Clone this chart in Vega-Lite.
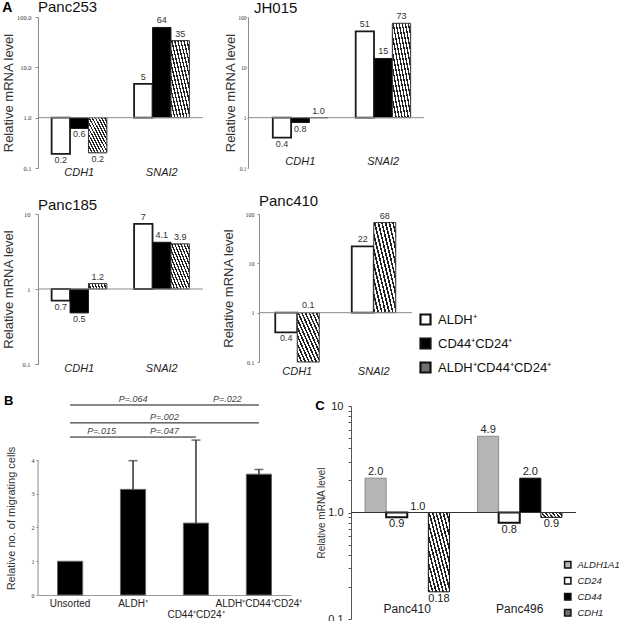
{
"$schema":"https://vega.github.io/schema/vega-lite/v6.json",
"background":"white",
"padding":{"left":1,"top":0,"right":0,"bottom":0},
"config":{"view":{"stroke":null},"font":"Liberation Sans","axis":{"grid":false,"titleFontWeight":"normal","titleColor":"#333","labelColor":"#333","domainColor":"#8c8c8c","tickColor":"#8c8c8c","titleFont":"Liberation Sans"},"title":{"fontWeight":"normal"}},
"datasets":{"sig":[
{"a":"Unsorted","b":"CD44⁺CD24⁺","p":"P=.064","tier":1},
{"a":"CD44⁺CD24⁺","b":"ALDH⁺CD44⁺CD24⁺","p":"P=.022","tier":1},
{"a":"Unsorted","b":"ALDH⁺CD44⁺CD24⁺","p":"P=.002","tier":2},
{"a":"Unsorted","b":"ALDH⁺","p":"P=.015","tier":3},
{"a":"ALDH⁺","b":"CD44⁺CD24⁺","p":"P=.047","tier":3}]},
"spacing":17,
"resolve":{"scale":{"fill":"independent","xOffset":"independent"},"legend":{"fill":"independent"}},
"vconcat":[
{"spacing":20,"resolve":{"scale":{"fill":"independent","xOffset":"independent"},"legend":{"fill":"independent"}},"hconcat":[
{"width":165,"height":151,
"title":{"text":"Panc253","anchor":"start","frame":"group","fontSize":15,"color":"#111","offset":-14},
"data":{"values":[
{"gene":"CDH1","s":"ALDH⁺","v":0.19,"lab":"0.2"},{"gene":"CDH1","s":"CD44⁺CD24⁺","v":0.61,"lab":"0.6"},{"gene":"CDH1","s":"ALDH⁺CD44⁺CD24⁺","v":0.2,"lab":"0.2"},
{"gene":"SNAI2","s":"ALDH⁺","v":4.7,"lab":"5"},{"gene":"SNAI2","s":"CD44⁺CD24⁺","v":62,"lab":"64"},{"gene":"SNAI2","s":"ALDH⁺CD44⁺CD24⁺","v":34,"lab":"35"}]},
"layer":[
{"transform":[{"filter":"datum.s!=='ALDH⁺CD44⁺CD24⁺'"}],"mark":{"type":"bar","stroke":"#1a1a1a"},"encoding":{
"x":{"field":"gene","type":"nominal","scale":{"paddingInner":0.33,"paddingOuter":0.165},"axis":{"title":null,"domain":false,"ticks":false,"labelAngle":0,"labelFontStyle":"italic","labelFontSize":11,"labelColor":"#222","labelPadding":-2}},
"xOffset":{"field":"s","type":"nominal","scale":{"domain":["ALDH⁺","CD44⁺CD24⁺","ALDH⁺CD44⁺CD24⁺"],"paddingInner":0}},
"y":{"field":"v","type":"quantitative","scale":{"type":"log","domain":[0.1,100]},"axis":{"title":"Relative mRNA level","titleFontSize":13,"values":[0.1,1,10,100],"format":".1f","labelFont":"Liberation Serif","labelFontSize":6.5,"tickSize":3,"labelPadding":4,"minExtent":20,"maxExtent":20,"titlePadding":3}},
"y2":{"datum":1},
"fill":{"condition":{"test":"datum.s==='ALDH⁺'","value":"#ffffff"},"value":"#000000"},
"strokeWidth":{"condition":{"test":"datum.s==='ALDH⁺'","value":1.8},"value":1}}},
{"transform":[{"filter":"datum.s==='ALDH⁺CD44⁺CD24⁺'"}],"mark":{"type":"bar","stroke":"#333","strokeWidth":1,"fill":{"gradient":"linear","x1":0,"y1":1,"x2":1,"y2":0,"stops":[{"offset":0,"color":"#222"},{"offset":0.0375,"color":"#222"},{"offset":0.0375,"color":"#fff"},{"offset":0.0833,"color":"#fff"},{"offset":0.0833,"color":"#222"},{"offset":0.1208,"color":"#222"},{"offset":0.1208,"color":"#fff"},{"offset":0.1667,"color":"#fff"},{"offset":0.1667,"color":"#222"},{"offset":0.2042,"color":"#222"},{"offset":0.2042,"color":"#fff"},{"offset":0.25,"color":"#fff"},{"offset":0.25,"color":"#222"},{"offset":0.2875,"color":"#222"},{"offset":0.2875,"color":"#fff"},{"offset":0.3333,"color":"#fff"},{"offset":0.3333,"color":"#222"},{"offset":0.3708,"color":"#222"},{"offset":0.3708,"color":"#fff"},{"offset":0.4167,"color":"#fff"},{"offset":0.4167,"color":"#222"},{"offset":0.4542,"color":"#222"},{"offset":0.4542,"color":"#fff"},{"offset":0.5,"color":"#fff"},{"offset":0.5,"color":"#222"},{"offset":0.5375,"color":"#222"},{"offset":0.5375,"color":"#fff"},{"offset":0.5833,"color":"#fff"},{"offset":0.5833,"color":"#222"},{"offset":0.6208,"color":"#222"},{"offset":0.6208,"color":"#fff"},{"offset":0.6667,"color":"#fff"},{"offset":0.6667,"color":"#222"},{"offset":0.7042,"color":"#222"},{"offset":0.7042,"color":"#fff"},{"offset":0.75,"color":"#fff"},{"offset":0.75,"color":"#222"},{"offset":0.7875,"color":"#222"},{"offset":0.7875,"color":"#fff"},{"offset":0.8333,"color":"#fff"},{"offset":0.8333,"color":"#222"},{"offset":0.8708,"color":"#222"},{"offset":0.8708,"color":"#fff"},{"offset":0.9167,"color":"#fff"},{"offset":0.9167,"color":"#222"},{"offset":0.9542,"color":"#222"},{"offset":0.9542,"color":"#fff"},{"offset":1,"color":"#fff"}]}},"encoding":{
"x":{"field":"gene","type":"nominal"},"xOffset":{"field":"s","type":"nominal"},"y":{"field":"v","type":"quantitative"},"y2":{"datum":1}}},
{"data":{"values":[{}]},"mark":{"type":"rule","color":"#8c8c8c","strokeWidth":1},"encoding":{"y":{"datum":1,"type":"quantitative"}}},
{"transform":[{"filter":"datum.v>=1"}],"mark":{"type":"text","baseline":"bottom","dy":-2,"fontSize":9,"color":"#333"},"encoding":{"x":{"field":"gene","type":"nominal"},"xOffset":{"field":"s","type":"nominal"},"y":{"field":"v","type":"quantitative"},"text":{"field":"lab"}}},
{"transform":[{"filter":"datum.v<1"}],"mark":{"type":"text","baseline":"top","dy":2,"fontSize":9,"color":"#333"},"encoding":{"x":{"field":"gene","type":"nominal"},"xOffset":{"field":"s","type":"nominal"},"y":{"field":"v","type":"quantitative"},"text":{"field":"lab"}}},
{"data":{"values":[{}]},"mark":{"type":"text","text":"A","fontSize":14,"fontWeight":"bold","align":"left","baseline":"middle","dx":-77,"dy":-9,"color":"#000"},"encoding":{"x":{"datum":"CDH1"},"y":{"datum":100}}}
]},
{"width":176,"height":151,
"title":{"text":"JH015","anchor":"start","frame":"group","fontSize":15,"color":"#111","offset":-4,"dx":6},
"data":{"values":[
{"gene":"CDH1","s":"ALDH⁺","v":0.4,"lab":"0.4"},{"gene":"CDH1","s":"CD44⁺CD24⁺","v":0.8,"lab":"0.8"},{"gene":"CDH1","s":"ALDH⁺CD44⁺CD24⁺","v":1.0,"lab":"1.0"},
{"gene":"SNAI2","s":"ALDH⁺","v":52,"lab":"51"},{"gene":"SNAI2","s":"CD44⁺CD24⁺","v":15,"lab":"15"},{"gene":"SNAI2","s":"ALDH⁺CD44⁺CD24⁺","v":75,"lab":"73"}]},
"layer":[
{"transform":[{"filter":"datum.s!=='ALDH⁺CD44⁺CD24⁺'"}],"mark":{"type":"bar","stroke":"#1a1a1a"},"encoding":{
"x":{"field":"gene","type":"nominal","scale":{"paddingInner":0.337,"paddingOuter":0.23,"align":0.65},"axis":{"title":null,"domain":false,"ticks":false,"labelAngle":0,"labelFontStyle":"italic","labelFontSize":11,"labelColor":"#222","labelPadding":-13}},
"xOffset":{"field":"s","type":"nominal","scale":{"domain":["ALDH⁺","CD44⁺CD24⁺","ALDH⁺CD44⁺CD24⁺"],"paddingInner":0}},
"y":{"field":"v","type":"quantitative","scale":{"type":"log","domain":[0.1,100]},"axis":{"title":"Relative mRNA level","titleFontSize":13,"values":[0.1,1,10,100],"format":"~g","labelFont":"Liberation Serif","labelFontSize":5.5,"tickSize":1,"labelPadding":1,"minExtent":10,"maxExtent":10,"titlePadding":0.5}},
"y2":{"datum":1},
"fill":{"condition":{"test":"datum.s==='ALDH⁺'","value":"#ffffff"},"value":"#000000"},
"strokeWidth":{"condition":{"test":"datum.s==='ALDH⁺'","value":1.8},"value":1}}},
{"transform":[{"filter":"datum.s==='ALDH⁺CD44⁺CD24⁺'"}],"mark":{"type":"bar","stroke":"#333","strokeWidth":1,"fill":{"gradient":"linear","x1":0,"y1":1,"x2":1,"y2":0,"stops":[{"offset":0,"color":"#222"},{"offset":0.0375,"color":"#222"},{"offset":0.0375,"color":"#fff"},{"offset":0.0833,"color":"#fff"},{"offset":0.0833,"color":"#222"},{"offset":0.1208,"color":"#222"},{"offset":0.1208,"color":"#fff"},{"offset":0.1667,"color":"#fff"},{"offset":0.1667,"color":"#222"},{"offset":0.2042,"color":"#222"},{"offset":0.2042,"color":"#fff"},{"offset":0.25,"color":"#fff"},{"offset":0.25,"color":"#222"},{"offset":0.2875,"color":"#222"},{"offset":0.2875,"color":"#fff"},{"offset":0.3333,"color":"#fff"},{"offset":0.3333,"color":"#222"},{"offset":0.3708,"color":"#222"},{"offset":0.3708,"color":"#fff"},{"offset":0.4167,"color":"#fff"},{"offset":0.4167,"color":"#222"},{"offset":0.4542,"color":"#222"},{"offset":0.4542,"color":"#fff"},{"offset":0.5,"color":"#fff"},{"offset":0.5,"color":"#222"},{"offset":0.5375,"color":"#222"},{"offset":0.5375,"color":"#fff"},{"offset":0.5833,"color":"#fff"},{"offset":0.5833,"color":"#222"},{"offset":0.6208,"color":"#222"},{"offset":0.6208,"color":"#fff"},{"offset":0.6667,"color":"#fff"},{"offset":0.6667,"color":"#222"},{"offset":0.7042,"color":"#222"},{"offset":0.7042,"color":"#fff"},{"offset":0.75,"color":"#fff"},{"offset":0.75,"color":"#222"},{"offset":0.7875,"color":"#222"},{"offset":0.7875,"color":"#fff"},{"offset":0.8333,"color":"#fff"},{"offset":0.8333,"color":"#222"},{"offset":0.8708,"color":"#222"},{"offset":0.8708,"color":"#fff"},{"offset":0.9167,"color":"#fff"},{"offset":0.9167,"color":"#222"},{"offset":0.9542,"color":"#222"},{"offset":0.9542,"color":"#fff"},{"offset":1,"color":"#fff"}]}},"encoding":{
"x":{"field":"gene","type":"nominal"},"xOffset":{"field":"s","type":"nominal"},"y":{"field":"v","type":"quantitative"},"y2":{"datum":1}}},
{"data":{"values":[{}]},"mark":{"type":"rule","color":"#8c8c8c","strokeWidth":1},"encoding":{"y":{"datum":1,"type":"quantitative"}}},
{"transform":[{"filter":"datum.v>=1"}],"mark":{"type":"text","baseline":"bottom","dy":-2,"fontSize":9,"color":"#333"},"encoding":{"x":{"field":"gene","type":"nominal"},"xOffset":{"field":"s","type":"nominal"},"y":{"field":"v","type":"quantitative"},"text":{"field":"lab"}}},
{"transform":[{"filter":"datum.v<1"}],"mark":{"type":"text","baseline":"top","dy":2,"fontSize":9,"color":"#333"},"encoding":{"x":{"field":"gene","type":"nominal"},"xOffset":{"field":"s","type":"nominal"},"y":{"field":"v","type":"quantitative"},"text":{"field":"lab"}}}
]}
]},
{"spacing":18,"resolve":{"scale":{"fill":"independent","xOffset":"independent"},"legend":{"fill":"independent"}},"hconcat":[
{"width":165,"height":150,
"title":{"text":"Panc185","anchor":"start","frame":"group","fontSize":15,"color":"#111","offset":-2},
"data":{"values":[
{"gene":"CDH1","s":"ALDH⁺","v":0.7,"lab":"0.7"},{"gene":"CDH1","s":"CD44⁺CD24⁺","v":0.48,"lab":"0.5"},{"gene":"CDH1","s":"ALDH⁺CD44⁺CD24⁺","v":1.18,"lab":"1.2"},
{"gene":"SNAI2","s":"ALDH⁺","v":7.4,"lab":"7"},{"gene":"SNAI2","s":"CD44⁺CD24⁺","v":4.2,"lab":"4.1"},{"gene":"SNAI2","s":"ALDH⁺CD44⁺CD24⁺","v":4.0,"lab":"3.9"}]},
"layer":[
{"transform":[{"filter":"datum.s!=='ALDH⁺CD44⁺CD24⁺'"}],"mark":{"type":"bar","stroke":"#1a1a1a"},"encoding":{
"x":{"field":"gene","type":"nominal","scale":{"paddingInner":0.33,"paddingOuter":0.165},"axis":{"title":null,"domain":false,"ticks":false,"labelAngle":0,"labelFontStyle":"italic","labelFontSize":11,"labelColor":"#222","labelPadding":-2}},
"xOffset":{"field":"s","type":"nominal","scale":{"domain":["ALDH⁺","CD44⁺CD24⁺","ALDH⁺CD44⁺CD24⁺"],"paddingInner":0}},
"y":{"field":"v","type":"quantitative","scale":{"type":"log","domain":[0.1,10]},"axis":{"title":"Relative mRNA level","titleFontSize":13,"values":[0.1,1,10],"format":"~g","labelFont":"Liberation Serif","labelFontSize":6.5,"tickSize":3,"labelPadding":5,"minExtent":20,"maxExtent":20,"titlePadding":3}},
"y2":{"datum":1},
"fill":{"condition":{"test":"datum.s==='ALDH⁺'","value":"#ffffff"},"value":"#000000"},
"strokeWidth":{"condition":{"test":"datum.s==='ALDH⁺'","value":1.8},"value":1}}},
{"transform":[{"filter":"datum.s==='ALDH⁺CD44⁺CD24⁺'"}],"mark":{"type":"bar","stroke":"#333","strokeWidth":1,"fill":{"gradient":"linear","x1":0,"y1":1,"x2":1,"y2":0,"stops":[{"offset":0,"color":"#222"},{"offset":0.0375,"color":"#222"},{"offset":0.0375,"color":"#fff"},{"offset":0.0833,"color":"#fff"},{"offset":0.0833,"color":"#222"},{"offset":0.1208,"color":"#222"},{"offset":0.1208,"color":"#fff"},{"offset":0.1667,"color":"#fff"},{"offset":0.1667,"color":"#222"},{"offset":0.2042,"color":"#222"},{"offset":0.2042,"color":"#fff"},{"offset":0.25,"color":"#fff"},{"offset":0.25,"color":"#222"},{"offset":0.2875,"color":"#222"},{"offset":0.2875,"color":"#fff"},{"offset":0.3333,"color":"#fff"},{"offset":0.3333,"color":"#222"},{"offset":0.3708,"color":"#222"},{"offset":0.3708,"color":"#fff"},{"offset":0.4167,"color":"#fff"},{"offset":0.4167,"color":"#222"},{"offset":0.4542,"color":"#222"},{"offset":0.4542,"color":"#fff"},{"offset":0.5,"color":"#fff"},{"offset":0.5,"color":"#222"},{"offset":0.5375,"color":"#222"},{"offset":0.5375,"color":"#fff"},{"offset":0.5833,"color":"#fff"},{"offset":0.5833,"color":"#222"},{"offset":0.6208,"color":"#222"},{"offset":0.6208,"color":"#fff"},{"offset":0.6667,"color":"#fff"},{"offset":0.6667,"color":"#222"},{"offset":0.7042,"color":"#222"},{"offset":0.7042,"color":"#fff"},{"offset":0.75,"color":"#fff"},{"offset":0.75,"color":"#222"},{"offset":0.7875,"color":"#222"},{"offset":0.7875,"color":"#fff"},{"offset":0.8333,"color":"#fff"},{"offset":0.8333,"color":"#222"},{"offset":0.8708,"color":"#222"},{"offset":0.8708,"color":"#fff"},{"offset":0.9167,"color":"#fff"},{"offset":0.9167,"color":"#222"},{"offset":0.9542,"color":"#222"},{"offset":0.9542,"color":"#fff"},{"offset":1,"color":"#fff"}]}},"encoding":{
"x":{"field":"gene","type":"nominal"},"xOffset":{"field":"s","type":"nominal"},"y":{"field":"v","type":"quantitative"},"y2":{"datum":1}}},
{"data":{"values":[{}]},"mark":{"type":"rule","color":"#8c8c8c","strokeWidth":1},"encoding":{"y":{"datum":1,"type":"quantitative"}}},
{"transform":[{"filter":"datum.v>=1"}],"mark":{"type":"text","baseline":"bottom","dy":-2,"fontSize":9,"color":"#333"},"encoding":{"x":{"field":"gene","type":"nominal"},"xOffset":{"field":"s","type":"nominal"},"y":{"field":"v","type":"quantitative"},"text":{"field":"lab"}}},
{"transform":[{"filter":"datum.v<1"}],"mark":{"type":"text","baseline":"top","dy":2,"fontSize":9,"color":"#333"},"encoding":{"x":{"field":"gene","type":"nominal"},"xOffset":{"field":"s","type":"nominal"},"y":{"field":"v","type":"quantitative"},"text":{"field":"lab"}}}
]},
{"width":153,"height":148,
"title":{"text":"Panc410","anchor":"start","frame":"group","fontSize":15,"color":"#111","offset":2},
"data":{"values":[
{"gene":"CDH1","s":"ALDH⁺","v":0.4,"lab":"0.4"},{"gene":"CDH1","s":"ALDH⁺CD44⁺CD24⁺","v":0.1,"lab":"0.1"},
{"gene":"SNAI2","s":"ALDH⁺","v":22,"lab":"22"},{"gene":"SNAI2","s":"ALDH⁺CD44⁺CD24⁺","v":67,"lab":"68"}]},
"layer":[
{"transform":[{"filter":"datum.s!=='ALDH⁺CD44⁺CD24⁺'"}],"mark":{"type":"bar","stroke":"#1a1a1a"},"encoding":{
"x":{"field":"gene","type":"nominal","scale":{"paddingInner":0.425,"paddingOuter":0.2125},"axis":{"title":null,"domain":false,"ticks":false,"labelAngle":0,"labelFontStyle":"italic","labelFontSize":11,"labelColor":"#222","labelPadding":3}},
"xOffset":{"field":"s","type":"nominal","scale":{"domain":["ALDH⁺","ALDH⁺CD44⁺CD24⁺"],"paddingInner":0}},
"y":{"field":"v","type":"quantitative","scale":{"type":"log","domain":[0.1,100]},"axis":{"title":"Relative mRNA level","titleFontSize":13,"values":[0.1,1,10,100],"format":"~g","labelFont":"Liberation Serif","labelFontSize":6,"tickSize":2,"labelPadding":3,"minExtent":20,"maxExtent":20,"titlePadding":3.5}},
"y2":{"datum":1},
"fill":{"field":"s","type":"nominal","scale":{"domain":["ALDH⁺","CD44⁺CD24⁺","ALDH⁺CD44⁺CD24⁺"],"range":["#ffffff","#000000","#707070"]},
"legend":{"orient":"none","legendX":160,"legendY":99,"title":null,"labelFontSize":13,"labelColor":"#111","symbolType":"square","symbolSize":100,"symbolStrokeColor":"#111","symbolStrokeWidth":2.2,"rowPadding":5,"labelOffset":6}},
"strokeWidth":{"condition":{"test":"datum.s==='ALDH⁺'","value":1.8},"value":1}}},
{"transform":[{"filter":"datum.s==='ALDH⁺CD44⁺CD24⁺'"}],"mark":{"type":"bar","stroke":"#333","strokeWidth":1,"fill":{"gradient":"linear","x1":0,"y1":1,"x2":1,"y2":0,"stops":[{"offset":0,"color":"#222"},{"offset":0.0375,"color":"#222"},{"offset":0.0375,"color":"#fff"},{"offset":0.0833,"color":"#fff"},{"offset":0.0833,"color":"#222"},{"offset":0.1208,"color":"#222"},{"offset":0.1208,"color":"#fff"},{"offset":0.1667,"color":"#fff"},{"offset":0.1667,"color":"#222"},{"offset":0.2042,"color":"#222"},{"offset":0.2042,"color":"#fff"},{"offset":0.25,"color":"#fff"},{"offset":0.25,"color":"#222"},{"offset":0.2875,"color":"#222"},{"offset":0.2875,"color":"#fff"},{"offset":0.3333,"color":"#fff"},{"offset":0.3333,"color":"#222"},{"offset":0.3708,"color":"#222"},{"offset":0.3708,"color":"#fff"},{"offset":0.4167,"color":"#fff"},{"offset":0.4167,"color":"#222"},{"offset":0.4542,"color":"#222"},{"offset":0.4542,"color":"#fff"},{"offset":0.5,"color":"#fff"},{"offset":0.5,"color":"#222"},{"offset":0.5375,"color":"#222"},{"offset":0.5375,"color":"#fff"},{"offset":0.5833,"color":"#fff"},{"offset":0.5833,"color":"#222"},{"offset":0.6208,"color":"#222"},{"offset":0.6208,"color":"#fff"},{"offset":0.6667,"color":"#fff"},{"offset":0.6667,"color":"#222"},{"offset":0.7042,"color":"#222"},{"offset":0.7042,"color":"#fff"},{"offset":0.75,"color":"#fff"},{"offset":0.75,"color":"#222"},{"offset":0.7875,"color":"#222"},{"offset":0.7875,"color":"#fff"},{"offset":0.8333,"color":"#fff"},{"offset":0.8333,"color":"#222"},{"offset":0.8708,"color":"#222"},{"offset":0.8708,"color":"#fff"},{"offset":0.9167,"color":"#fff"},{"offset":0.9167,"color":"#222"},{"offset":0.9542,"color":"#222"},{"offset":0.9542,"color":"#fff"},{"offset":1,"color":"#fff"}]}},"encoding":{
"x":{"field":"gene","type":"nominal"},"xOffset":{"field":"s","type":"nominal"},"y":{"field":"v","type":"quantitative"},"y2":{"datum":1}}},
{"data":{"values":[{}]},"mark":{"type":"rule","color":"#8c8c8c","strokeWidth":1},"encoding":{"y":{"datum":1,"type":"quantitative"}}},
{"transform":[{"filter":"datum.v>=1"}],"mark":{"type":"text","baseline":"bottom","dy":-2,"fontSize":9,"color":"#333"},"encoding":{"x":{"field":"gene","type":"nominal"},"xOffset":{"field":"s","type":"nominal"},"y":{"field":"v","type":"quantitative"},"text":{"field":"lab"}}},
{"transform":[{"filter":"datum.v<1 && datum.v>0.15"}],"mark":{"type":"text","baseline":"top","dy":2,"fontSize":9,"color":"#333"},"encoding":{"x":{"field":"gene","type":"nominal"},"xOffset":{"field":"s","type":"nominal"},"y":{"field":"v","type":"quantitative"},"text":{"field":"lab"}}},
{"transform":[{"filter":"datum.v<=0.15"}],"mark":{"type":"text","baseline":"bottom","dy":-3,"fontSize":9,"color":"#333"},"encoding":{"x":{"field":"gene","type":"nominal"},"xOffset":{"field":"s","type":"nominal"},"y":{"datum":1},"text":{"field":"lab"}}}
]}
]},
{"spacing":13,"resolve":{"scale":{"fill":"independent","xOffset":"independent"},"legend":{"fill":"independent"}},"hconcat":[
{"width":253,"height":189,
"data":{"values":[
{"g":"Unsorted","v":1.0},{"g":"ALDH⁺","v":3.13,"hi":3.98},{"g":"CD44⁺CD24⁺","v":2.13,"hi":4.59},{"g":"ALDH⁺CD44⁺CD24⁺","v":3.58,"hi":3.72}]},
"layer":[
{"mark":{"type":"bar","fill":"#000","stroke":"#666","strokeWidth":1},"encoding":{
"x":{"field":"g","type":"nominal","scale":{"domain":["Unsorted","ALDH⁺","CD44⁺CD24⁺","ALDH⁺CD44⁺CD24⁺"],"paddingInner":0.6,"paddingOuter":0.31},"axis":{"title":null,"domainColor":"#999","ticks":false,"labelAngle":0,"labelFontSize":10,"labelColor":"#222","labelPadding":3,"labelOverlap":false,"labelLineHeight":11,"labelExpr":"datum.label=='CD44⁺CD24⁺' ? ['', datum.label] : datum.label"}},
"y":{"field":"v","type":"quantitative","scale":{"domain":[0,5.6],"nice":false},"axis":{"title":"Relative no. of migrating cells","titleFontSize":11,"values":[0,0.5,1,1.5,2,2.5,3,3.5,4],"format":"~g","domain":false,"labelFont":"Liberation Serif","labelFontSize":6,"tickSize":2,"labelPadding":2,"minExtent":18,"maxExtent":18,"titlePadding":3.5,"titleY":112}}}},
{"data":{"values":[{}]},"mark":{"type":"rule","color":"#8c8c8c","strokeWidth":1},"encoding":{"x":{"value":0},"y":{"datum":0},"y2":{"datum":4}}},
{"transform":[{"filter":"isValid(datum.hi)"}],"mark":{"type":"rule","color":"#333","strokeWidth":1.5},"encoding":{"x":{"field":"g","type":"nominal"},"y":{"field":"v","type":"quantitative"},"y2":{"field":"hi"}}},
{"transform":[{"filter":"isValid(datum.hi)"}],"mark":{"type":"tick","color":"#333","thickness":1.5,"size":9},"encoding":{"x":{"field":"g","type":"nominal"},"y":{"field":"hi","type":"quantitative"}}},
{"data":{"name":"sig"},"transform":[{"filter":"datum.tier==1"}],"mark":{"type":"rule","color":"#111","strokeWidth":1},"encoding":{"x":{"field":"a","type":"nominal"},"x2":{"field":"b"},"y":{"datum":5.63}}},
{"data":{"name":"sig"},"transform":[{"filter":"datum.tier==2"}],"mark":{"type":"rule","color":"#111","strokeWidth":1},"encoding":{"x":{"field":"a","type":"nominal"},"x2":{"field":"b"},"y":{"datum":5.1}}},
{"data":{"name":"sig"},"transform":[{"filter":"datum.tier==3"}],"mark":{"type":"rule","color":"#111","strokeWidth":1},"encoding":{"x":{"field":"a","type":"nominal"},"x2":{"field":"b"},"y":{"datum":4.68}}},
{"data":{"name":"sig"},"transform":[{"filter":"datum.p=='P=.064'"}],"mark":{"type":"text","fontSize":9,"fontStyle":"italic","color":"#444","baseline":"bottom","dy":-1},"encoding":{"x":{"datum":"ALDH⁺","bandPosition":0.5},"y":{"datum":5.63},"text":{"field":"p"}}},
{"data":{"name":"sig"},"transform":[{"filter":"datum.p=='P=.022'"}],"mark":{"type":"text","fontSize":9,"fontStyle":"italic","color":"#444","baseline":"bottom","dy":-1},"encoding":{"x":{"datum":"CD44⁺CD24⁺","bandPosition":1.75},"y":{"datum":5.63},"text":{"field":"p"}}},
{"data":{"name":"sig"},"transform":[{"filter":"datum.p=='P=.002'"}],"mark":{"type":"text","fontSize":9,"fontStyle":"italic","color":"#444","baseline":"bottom","dy":-1},"encoding":{"x":{"datum":"ALDH⁺","bandPosition":1.75},"y":{"datum":5.1},"text":{"field":"p"}}},
{"data":{"name":"sig"},"transform":[{"filter":"datum.p=='P=.015'"}],"mark":{"type":"text","fontSize":9,"fontStyle":"italic","color":"#444","baseline":"bottom","dy":-1},"encoding":{"x":{"datum":"Unsorted","bandPosition":1.75},"y":{"datum":4.68},"text":{"field":"p"}}},
{"data":{"name":"sig"},"transform":[{"filter":"datum.p=='P=.047'"}],"mark":{"type":"text","fontSize":9,"fontStyle":"italic","color":"#444","baseline":"bottom","dy":-1},"encoding":{"x":{"datum":"ALDH⁺","bandPosition":1.75},"y":{"datum":4.68},"text":{"field":"p"}}},
{"data":{"values":[{}]},"mark":{"type":"text","text":"B","fontSize":13,"fontWeight":"bold","align":"left","baseline":"middle","dx":-66,"dy":-5,"color":"#000"},"encoding":{"x":{"datum":"Unsorted"},"y":{"datum":5.6}}}
]},
{"width":225,"height":213,
"data":{"values":[
{"cell":"Panc410","gene":"ALDH1A1","v":2.1,"lab":"2.0"},{"cell":"Panc410","gene":"CD24","v":0.9,"lab":"0.9"},{"cell":"Panc410","gene":"CD44","v":1.0,"lab":"1.0"},{"cell":"Panc410","gene":"CDH1","v":0.18,"lab":"0.18"},
{"cell":"Panc496","gene":"ALDH1A1","v":5.2,"lab":"4.9"},{"cell":"Panc496","gene":"CD24","v":0.8,"lab":"0.8"},{"cell":"Panc496","gene":"CD44","v":2.1,"lab":"2.0"},{"cell":"Panc496","gene":"CDH1","v":0.9,"lab":"0.9"}]},
"layer":[
{"transform":[{"filter":"datum.gene!=='CDH1'"}],"mark":{"type":"bar"},"encoding":{
"x":{"field":"cell","type":"nominal","scale":{"paddingInner":0.25,"paddingOuter":0.125},"axis":{"title":null,"domain":false,"ticks":false,"labelAngle":0,"labelFontSize":12,"labelColor":"#222","labelPadding":-16}},
"xOffset":{"field":"gene","type":"nominal","scale":{"domain":["ALDH1A1","CD24","CD44","CDH1"],"paddingInner":0}},
"y":{"field":"v","type":"quantitative","scale":{"type":"log","domain":[0.1,10]},"axis":{"title":"Relative mRNA level","titleFontSize":10,"values":[0.1,0.2,0.3,0.4,0.5,0.6,0.7,0.8,0.9,1,2,3,4,5,6,7,8,9,10],"labelExpr":"datum.value==10?'10':datum.value==1?'1.0':datum.value==0.1?'0.1':''","labelOverlap":false,"labelFontSize":11,"labelColor":"#222","tickSize":3,"labelPadding":5,"minExtent":18,"maxExtent":18,"titlePadding":7,"domainColor":"#555","tickColor":"#555"}},
"y2":{"datum":1},
"fill":{"field":"gene","type":"nominal","scale":{"domain":["ALDH1A1","CD24","CD44","CDH1"],"range":["#b5b5b5","#ffffff","#000000","#707070"]},
"legend":{"orient":"none","legendX":212,"legendY":154,"title":null,"labelFontStyle":"italic","labelFontSize":9.5,"labelColor":"#222","symbolType":"square","symbolSize":40,"symbolStrokeColor":"#111","symbolStrokeWidth":1.5,"rowPadding":3,"labelOffset":5}},
"stroke":{"condition":{"test":"datum.gene==='ALDH1A1'","value":"#8c8c8c"},"value":"#111"},
"strokeWidth":{"condition":{"test":"datum.gene==='CD24'","value":2},"value":1}}},
{"transform":[{"filter":"datum.gene==='CDH1'"}],"mark":{"type":"bar","stroke":"#111","strokeWidth":1,"fill":{"gradient":"linear","x1":0,"y1":1,"x2":1,"y2":0,"stops":[{"offset":0,"color":"#222"},{"offset":0.0375,"color":"#222"},{"offset":0.0375,"color":"#fff"},{"offset":0.0833,"color":"#fff"},{"offset":0.0833,"color":"#222"},{"offset":0.1208,"color":"#222"},{"offset":0.1208,"color":"#fff"},{"offset":0.1667,"color":"#fff"},{"offset":0.1667,"color":"#222"},{"offset":0.2042,"color":"#222"},{"offset":0.2042,"color":"#fff"},{"offset":0.25,"color":"#fff"},{"offset":0.25,"color":"#222"},{"offset":0.2875,"color":"#222"},{"offset":0.2875,"color":"#fff"},{"offset":0.3333,"color":"#fff"},{"offset":0.3333,"color":"#222"},{"offset":0.3708,"color":"#222"},{"offset":0.3708,"color":"#fff"},{"offset":0.4167,"color":"#fff"},{"offset":0.4167,"color":"#222"},{"offset":0.4542,"color":"#222"},{"offset":0.4542,"color":"#fff"},{"offset":0.5,"color":"#fff"},{"offset":0.5,"color":"#222"},{"offset":0.5375,"color":"#222"},{"offset":0.5375,"color":"#fff"},{"offset":0.5833,"color":"#fff"},{"offset":0.5833,"color":"#222"},{"offset":0.6208,"color":"#222"},{"offset":0.6208,"color":"#fff"},{"offset":0.6667,"color":"#fff"},{"offset":0.6667,"color":"#222"},{"offset":0.7042,"color":"#222"},{"offset":0.7042,"color":"#fff"},{"offset":0.75,"color":"#fff"},{"offset":0.75,"color":"#222"},{"offset":0.7875,"color":"#222"},{"offset":0.7875,"color":"#fff"},{"offset":0.8333,"color":"#fff"},{"offset":0.8333,"color":"#222"},{"offset":0.8708,"color":"#222"},{"offset":0.8708,"color":"#fff"},{"offset":0.9167,"color":"#fff"},{"offset":0.9167,"color":"#222"},{"offset":0.9542,"color":"#222"},{"offset":0.9542,"color":"#fff"},{"offset":1,"color":"#fff"}]}},"encoding":{
"x":{"field":"cell","type":"nominal"},"xOffset":{"field":"gene","type":"nominal"},"y":{"field":"v","type":"quantitative"},"y2":{"datum":1}}},
{"data":{"values":[{}]},"mark":{"type":"rule","color":"#333","strokeWidth":1},"encoding":{"y":{"datum":1,"type":"quantitative"}}},
{"transform":[{"filter":"datum.v>=1"}],"mark":{"type":"text","baseline":"bottom","dy":-1,"fontSize":11,"color":"#222"},"encoding":{"x":{"field":"cell","type":"nominal"},"xOffset":{"field":"gene","type":"nominal"},"y":{"field":"v","type":"quantitative"},"text":{"field":"lab"}}},
{"transform":[{"filter":"datum.v<1"}],"mark":{"type":"text","baseline":"top","dy":1,"fontSize":11,"color":"#222"},"encoding":{"x":{"field":"cell","type":"nominal"},"xOffset":{"field":"gene","type":"nominal"},"y":{"field":"v","type":"quantitative"},"text":{"field":"lab"}}},
{"data":{"values":[{}]},"mark":{"type":"text","text":"C","fontSize":13,"fontWeight":"bold","align":"left","baseline":"middle","dx":-92,"dy":0,"color":"#000"},"encoding":{"x":{"datum":"Panc410"},"y":{"datum":10}}}
]}
]}
]
}
